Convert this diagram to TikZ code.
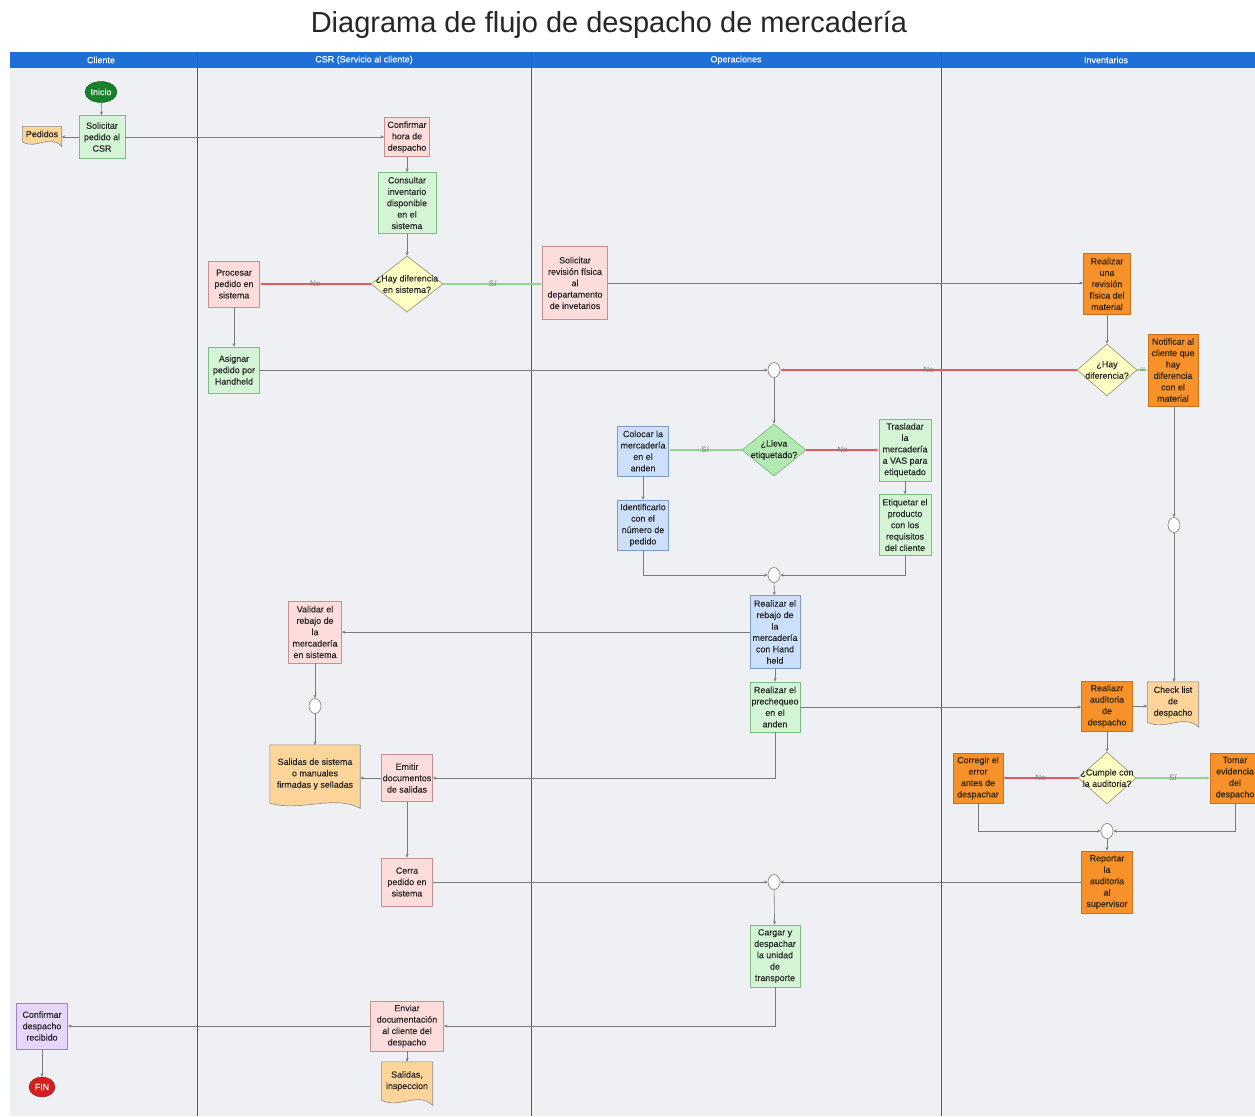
\documentclass[tikz,border=0pt]{standalone}
\usepackage{fontspec}
\setmainfont{Liberation Sans}
\newfontfamily\boxfont[FakeBold=0.25]{Liberation Sans}
\usetikzlibrary{shapes.geometric,calc,arrows.meta}

\definecolor{lanebg}{HTML}{EFF0F3}
\definecolor{hdr}{HTML}{1F6FD8}
\definecolor{laneline}{HTML}{5A5A5A}
\definecolor{gfill}{HTML}{D4F4D6}\definecolor{gline}{HTML}{7DBB82}
\definecolor{pfill}{HTML}{FDDCDC}\definecolor{pline}{HTML}{C98E8E}
\definecolor{bfill}{HTML}{CDE0FB}\definecolor{bline}{HTML}{7C9BC5}
\definecolor{ofill}{HTML}{F7922A}\definecolor{oline}{HTML}{C8701C}
\definecolor{dfill}{HTML}{FDD49A}\definecolor{dline}{HTML}{8C8C8C}
\definecolor{yfill}{HTML}{FFFFC4}\definecolor{yline}{HTML}{9A9A7A}
\definecolor{gdfill}{HTML}{B2EAB2}
\definecolor{vfill}{HTML}{E7D5FA}\definecolor{vline}{HTML}{9C85BC}
\definecolor{startg}{HTML}{17802B}
\definecolor{endr}{HTML}{D51F1F}
\definecolor{conn}{HTML}{7A7A7A}
\definecolor{noline}{HTML}{E25C5C}
\definecolor{siline}{HTML}{8FD68F}
\definecolor{txt}{HTML}{262626}
\definecolor{otxt}{HTML}{33240C}

\pgfdeclarelayer{back}
\pgfdeclarelayer{docs}
\pgfsetlayers{back,docs,main}

% document symbol with a wavy lower edge, drawn behind the node text
\newcommand\docwave[1]{%
  \begin{pgfonlayer}{docs}
  \draw[fill=dfill, draw=dline, line width=0.6pt]
    (#1.north west) -- (#1.north east) -- ($(#1.south east)+(0,5)$)
    .. controls ($(#1.south east)!0.3!(#1.south west)+(0,-9)$)
    and ($(#1.south east)!0.65!(#1.south west)+(0,9)$)
    .. (#1.south west) -- cycle;
  \end{pgfonlayer}}

\tikzset{
  x=1pt, y=-1pt,
  sz/.style 2 args={minimum width=#1, minimum height=#2},
  boxtext/.style={font=\boxfont\fontsize{8.9}{11.4}\selectfont},
  box/.style={rectangle, draw, line width=0.7pt, align=center, text=txt,
    boxtext, inner sep=0pt},
  gbox/.style={box, fill=gfill, draw=gline},
  pbox/.style={box, fill=pfill, draw=pline},
  bbox/.style={box, fill=bfill, draw=bline},
  obox/.style={box, fill=ofill, draw=oline, text=otxt},
  vbox/.style={box, fill=vfill, draw=vline},
  docnode/.style={rectangle, align=center, text=txt, inner sep=0pt, boxtext},
  dia/.style={diamond, draw=yline, fill=yfill, line width=0.7pt, inner sep=0pt},
  gdia/.style={dia, fill=gdfill, draw=gline},
  dtext/.style={boxtext, text=txt, align=center, inner sep=0pt},
  junc/.style={ellipse, draw=conn, fill=white, line width=0.6pt,
    minimum width=12, minimum height=15, inner sep=0pt},
  startnode/.style={ellipse, fill=startg, draw=startg!70!black, text=white,
    minimum width=32, minimum height=21, inner sep=0pt,
    font=\boxfont\fontsize{8.9}{10}\selectfont},
  endnode/.style={ellipse, fill=endr, draw=endr!70!black, text=white,
    minimum width=26, minimum height=20, inner sep=0pt,
    font=\boxfont\fontsize{8.9}{10}\selectfont},
  arr/.style={draw=conn, line width=0.6pt, -{Stealth[length=3.5pt, width=3pt]}},
  noedge/.style={draw=noline, line width=1.6pt},
  siedge/.style={draw=siline, line width=1.3pt},
  lbl/.style={font=\fontsize{8}{9}\selectfont, text=conn, inner sep=0pt},
  lanehead/.style={text=white, font=\boxfont\fontsize{9}{10}\selectfont, inner sep=0pt},
}

\begin{document}
\begin{tikzpicture}
\useasboundingbox (0,0) rectangle (1255,1116);

% title, swimlane background and headers
\begin{pgfonlayer}{back}
\fill[white] (0,0) rectangle (1255,1116);
\fill[lanebg] (10,52) rectangle (1255,1116);
\fill[hdr] (10,52) rectangle (1255,68);
\foreach \lx in {197,531,941}
  \draw[laneline, line width=0.8pt] (\lx,52) -- (\lx,1116);
\end{pgfonlayer}
\node[font=\fontsize{29}{34}\selectfont, text=black!85] (title) at (609,25)
  {Diagrama de flujo de despacho de mercadería};
\node[lanehead] (hcliente) at (101,60) {Cliente};
\node[lanehead] (hcsr) at (364,60) {CSR (Servicio al cliente)};
\node[lanehead] (hops) at (736,60) {Operaciones};
\node[lanehead] (hinv) at (1106,60) {Inventarios};

% Cliente lane
\node[startnode] (inicio) at (101,92) {Inicio};
\node[gbox, sz={46}{43}] (solicitar) at (102,137) {Solicitar\\pedido al\\CSR};
\node[docnode, sz={39}{15}] (pedidos) at (42,134) {Pedidos};
\docwave{pedidos}
\node[vbox, sz={51}{46}] (confirmrec) at (42,1026) {Confirmar\\despacho\\recibido};
\node[endnode] (fin) at (42,1087) {FIN};

% CSR lane
\node[pbox, sz={45}{39}] (confhora) at (407,137) {Confirmar\\hora de\\despacho};
\node[gbox, sz={58}{61}] (consultar) at (407,203) {Consultar\\inventario\\disponible\\en el\\sistema};
\node[dia, minimum width=72, minimum height=56,
  label={[dtext]center:{¿Hay diferencia\\en sistema?}}] (dif1) at (407,284) {};
\node[pbox, sz={51}{46}] (procesar) at (234,284) {Procesar\\pedido en\\sistema};
\node[gbox, sz={51}{46}] (asignar) at (234,370) {Asignar\\pedido por\\Handheld};
\node[pbox, sz={53}{62}] (validar) at (315,632) {Validar el\\rebajo de\\la\\mercadería\\en sistema};
\node[junc] (j4) at (315,706) {};
\node[docnode, sz={90}{58}] (salidasdoc) at (315,774) {Salidas de sistema\\o manuales\\firmadas y selladas};
\docwave{salidasdoc}
\node[pbox, sz={51}{47}] (emitir) at (407,778) {Emitir\\documentos\\de salidas};
\node[pbox, sz={51}{48}] (cerra) at (407,882) {Cerra\\pedido en\\sistema};
\node[pbox, sz={73}{50}] (enviar) at (407,1026) {Enviar\\documentación\\al cliente del\\despacho};
\node[docnode, sz={51}{38}] (salidasinsp) at (407,1081) {Salidas,\\inspeccion};
\docwave{salidasinsp}

% Operaciones lane
\node[pbox, sz={65}{73}] (solrev) at (575,283) {Solicitar\\revisión física\\al\\departamento\\de invetarios};
\node[junc] (j1) at (774,370) {};
\node[gdia, minimum width=64, minimum height=52,
  label={[dtext]center:{¿Lleva\\etiquetado?}}] (lleva) at (774,450) {};
\node[bbox, sz={51}{50}] (colocar) at (643,451) {Colocar la\\mercadería\\en el\\anden};
\node[bbox, sz={51}{50}] (identif) at (643,525) {Identificarlo\\con el\\número de\\pedido};
\node[gbox, sz={52}{62}] (trasladar) at (905,450) {Trasladar\\la\\mercadería\\a VAS para\\etiquetado};
\node[gbox, sz={52}{61}] (etiquetar) at (905,525) {Etiquetar el\\producto\\con los\\requisitos\\del cliente};
\node[junc] (j2) at (774,575) {};
\node[bbox, sz={50}{73}] (rebajo) at (775,632) {Realizar el\\rebajo de\\la\\mercadería\\con Hand\\held};
\node[gbox, sz={50}{50}] (prechequeo) at (775,707) {Realizar el\\prechequeo\\en el\\anden};
\node[junc] (j5) at (774,882) {};
\node[gbox, sz={50}{62}] (cargar) at (775,956) {Cargar y\\despachar\\la unidad\\de\\transporte};

% Inventarios lane
\node[obox, sz={47}{61}] (realrev) at (1107,284) {Realizar\\una\\revisión\\física del\\material};
\node[dia, minimum width=60, minimum height=52,
  label={[dtext]center:{¿Hay\\diferencia?}}] (dif2) at (1107,370) {};
\node[obox, sz={50}{72}] (notificar) at (1173,370) {Notificar al\\cliente que\\hay\\diferencia\\con el\\material};
\node[junc] (j3) at (1174,525) {};
\node[docnode, sz={51}{40}] (checklist) at (1173,702) {Check list\\de\\despacho};
\docwave{checklist}
\node[obox, sz={51}{50}] (auditoria) at (1107,706) {Realiazr\\auditoria\\de\\despacho};
\node[dia, minimum width=58, minimum height=52,
  label={[dtext]center:{¿Cumple con\\la auditoria?}}] (cumple) at (1107,778) {};
\node[obox, sz={50}{50}] (corregir) at (978,778) {Corregir el\\error\\antes de\\despachar};
\node[obox, sz={50}{50}] (tomar) at (1235,778) {Tomar\\evidencia\\del\\despacho};
\node[junc] (j6) at (1107,831) {};
\node[obox, sz={51}{62}] (reportar) at (1107,882) {Reportar\\la\\auditoria\\al\\supervisor};

% connectors
\draw[arr] (inicio) -- (solicitar);
\draw[arr] (solicitar.west) -- (solicitar.west -| pedidos.east);
\draw[arr] (solicitar.east) -- (solicitar.east -| confhora.west);
\draw[arr] (confhora) -- (consultar);
\draw[arr] (consultar) -- (dif1);
\draw[arr, noedge] (dif1.west) -- node[lbl]{No} (procesar.east);
\draw[arr, siedge] (dif1.east) -- node[lbl]{Sí} (dif1.east -| solrev.west);
\draw[arr] (procesar) -- (asignar);
\draw[arr] (asignar.east) -- (j1.west);
\draw[arr] (solrev.east) -- (solrev.east -| realrev.west);
\draw[arr] (realrev) -- (dif2);
\draw[arr, noedge] (dif2.west) -- node[lbl]{No} (j1.east);
\draw[arr, siedge] (dif2.east) -- node[lbl, font=\fontsize{5}{6}\selectfont]{Sí} (notificar.west);
\draw[arr] (j1) -- (lleva);
\draw[arr, siedge] (lleva.west) -- node[lbl]{Sí} (lleva.west -| colocar.east);
\draw[arr, noedge] (lleva.east) -- node[lbl]{No} (lleva.east -| trasladar.west);
\draw[arr] (colocar) -- (identif);
\draw[arr] (trasladar) -- (etiquetar);
\draw[arr] (identif.south) |- (j2.west);
\draw[arr] (etiquetar.south) |- (j2.east);
\draw[arr] (j2) -- (rebajo);
\draw[arr] (rebajo.west) -- (rebajo.west -| validar.east);
\draw[arr] (rebajo) -- (prechequeo);
\draw[arr] (validar) -- (j4);
\draw[arr] (j4) -- (salidasdoc);
\draw[arr] (prechequeo.south) |- (emitir.east);
\draw[arr] (emitir.west) -- (emitir.west -| salidasdoc.east);
\draw[arr] (emitir) -- (cerra);
\draw[arr] (prechequeo.east) -- (prechequeo.east -| auditoria.west);
\draw[arr] (auditoria.east) -- (auditoria.east -| checklist.west);
\draw[arr] (notificar.south -| j3.north) -- (j3.north);
\draw[arr] (j3.south) -- (j3.south |- checklist.north);
\draw[arr] (auditoria) -- (cumple);
\draw[arr, noedge] (cumple.west) -- node[lbl]{No} (corregir.east);
\draw[arr, siedge] (cumple.east) -- node[lbl]{Sí} (tomar.west);
\draw[arr] (corregir.south) |- (j6.west);
\draw[arr] (tomar.south) |- (j6.east);
\draw[arr] (j6) -- (reportar);
\draw[arr] (reportar.west) -- (j5.east);
\draw[arr] (cerra.east) -- (j5.west);
\draw[arr] (j5) -- (cargar);
\draw[arr] (cargar.south) |- (enviar.east);
\draw[arr] (enviar.west) -- (enviar.west -| confirmrec.east);
\draw[arr] (enviar) -- (salidasinsp);
\draw[arr] (confirmrec) -- (fin);
\end{tikzpicture}
\end{document}
